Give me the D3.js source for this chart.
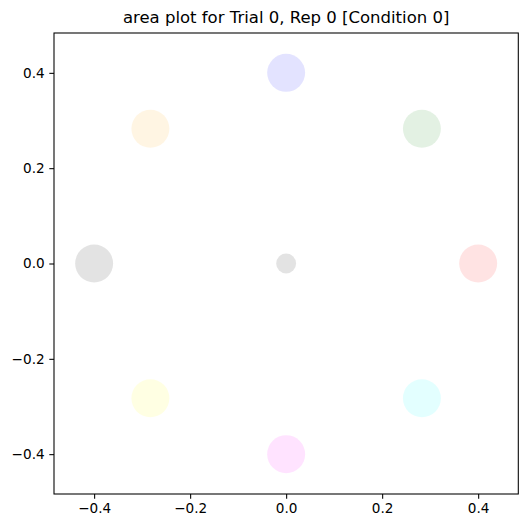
<!DOCTYPE html>
<html>
<head>
<meta charset="utf-8">
<script src="https://cdn.jsdelivr.net/npm/d3@7"></script>
<style>
  body { margin: 0; background: #fff; }
  svg { display: block; font-family: "DejaVu Sans", sans-serif; }
</style>
</head>
<body>
<div id="chart"></div>
<script>
// data
var titleText = "area plot for Trial 0, Rep 0 [Condition 0]";
var xs     = [0.4, 0.2828, 0, -0.2828, -0.4, -0.2828, 0, 0.2828, 0];
var ys     = [0, 0.2828, 0.4, 0.2828, 0, -0.2828, -0.4, -0.2828, 0];
var areas  = [800, 800, 800, 800, 800, 800, 800, 800, 220];
var colors = ["red", "green", "blue", "orange", "black", "yellow", "magenta", "cyan", "black"];
var ticks  = [-0.4, -0.2, 0, 0.2, 0.4];
var lim = 0.4836;

var W = 528, H = 528;
// plot box (note: "top" is reserved on window, so use box* names)
var boxL = 54, boxR = 518.3, boxT = 33, boxB = 494;

var svg = d3.select("#chart").append("svg")
  .attr("width", W).attr("height", H);

var x = d3.scaleLinear().domain([-lim, lim]).range([boxL, boxR]);
var y = d3.scaleLinear().domain([-lim, lim]).range([boxB, boxT]);
var r = d3.scaleSqrt().domain([0, 800]).range([0, 19]);

var pts = xs.map(function(d, i) {
  return { x: d, y: ys[i], a: areas[i], c: colors[i] };
});

// circles
svg.append("g").selectAll("circle")
  .data(pts).enter()
  .append("circle")
    .attr("cx", function(d) { return x(d.x); })
    .attr("cy", function(d) { return y(d.y); })
    .attr("r", function(d) { return r(d.a); })
    .style("fill", function(d) { return d.c; })
    .style("fill-opacity", 0.11);

var fmt = d3.format(".1f");

// x axis
var gx = svg.append("g")
  .attr("transform", "translate(0," + boxB + ")")
  .call(d3.axisBottom(x).tickValues(ticks).tickFormat(fmt).tickSize(4.7).tickPadding(4.7));
gx.select(".domain").remove();
gx.selectAll("line").attr("stroke", "#000").attr("stroke-width", 1.07);
gx.selectAll("text").attr("font-size", 13.6).attr("fill", "#000")
  .attr("font-family", "DejaVu Sans, sans-serif");

// y axis
var gy = svg.append("g")
  .attr("transform", "translate(" + boxL + ",0)")
  .call(d3.axisLeft(y).tickValues(ticks).tickFormat(fmt).tickSize(4.7).tickPadding(4.7));
gy.select(".domain").remove();
gy.selectAll("line").attr("stroke", "#000").attr("stroke-width", 1.07);
gy.selectAll("text").attr("font-size", 13.6).attr("fill", "#000")
  .attr("font-family", "DejaVu Sans, sans-serif");

// frame
svg.append("rect")
  .attr("x", boxL).attr("y", boxT)
  .attr("width", boxR - boxL).attr("height", boxB - boxT)
  .style("fill", "none")
  .style("stroke", "#000")
  .style("stroke-width", 1.07);

// title
svg.append("text")
  .attr("x", (boxL + boxR) / 2)
  .attr("y", 23)
  .attr("text-anchor", "middle")
  .attr("font-size", 16.5)
  .attr("fill", "#000")
  .text(titleText);
</script>
</body>
</html>
